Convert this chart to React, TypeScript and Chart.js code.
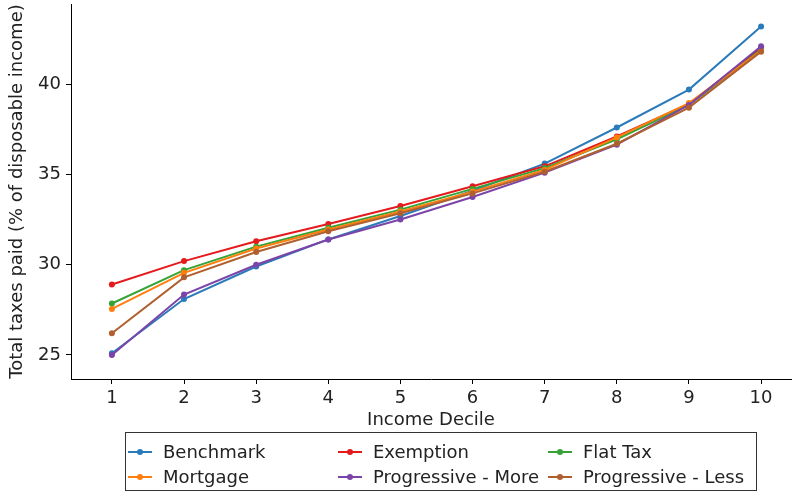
import React, { useEffect, useRef } from "react";
import { Chart, registerables } from "chart.js";

Chart.register(...registerables);

const deciles = [1, 2, 3, 4, 5, 6, 7, 8, 9, 10];
const yTicks = [25, 30, 35, 40];

const benchmark = [25.1, 28.1, 29.9, 31.4, 32.7, 34.1, 35.6, 37.6, 39.7, 43.2];
const exemption = [28.9, 30.2, 31.3, 32.25, 33.25, 34.35, 35.45, 37.1, 38.9, 42.0];
const flatTax = [27.85, 29.7, 31.0, 32.05, 33.05, 34.2, 35.35, 36.95, 38.85, 41.9];
const mortgage = [27.55, 29.55, 30.9, 31.95, 32.95, 34.05, 35.25, 37.05, 38.95, 41.85];
const progMore = [25.0, 28.35, 30.0, 31.4, 32.5, 33.75, 35.1, 36.65, 38.85, 42.1];
const progLess = [26.2, 29.3, 30.7, 31.85, 32.85, 33.95, 35.15, 36.7, 38.7, 41.8];

const seriesNames = ["Benchmark", "Exemption", "Flat Tax", "Mortgage", "Progressive - More", "Progressive - Less"];
const seriesData = [benchmark, exemption, flatTax, mortgage, progMore, progLess];
const seriesColors = ["#2b7bba", "#e41a1c", "#36a336", "#ff7f0e", "#7b44a8", "#b0602e"];

const FONT = "'DejaVu Sans', Verdana, sans-serif";
const FS = 18;

export default function App() {
  const ref = useRef<HTMLCanvasElement | null>(null);

  useEffect(() => {
    document.body.style.margin = "0";
    const ctx = ref.current!;
    const chart = new Chart(ctx, {
      type: "line",
      data: {
        datasets: seriesNames.map((name, i) => ({
          label: name,
          data: deciles.map((d, j) => ({ x: d, y: seriesData[i][j] })),
          borderColor: seriesColors[i],
          backgroundColor: seriesColors[i],
          borderWidth: 2,
          pointRadius: 3,
          pointBorderWidth: 0,
          pointHoverRadius: 3,
          fill: false,
          order: seriesNames.length - i,
        })),
      },
      options: {
        animation: false,
        responsive: false,
        maintainAspectRatio: false,
        layout: { padding: { left: 0, right: 1, top: 4, bottom: 65 } },
        plugins: { legend: { display: false }, tooltip: { enabled: false } },
        scales: {
          x: {
            type: "linear",
            min: 0.433,
            max: 10.415,
            afterBuildTicks: (s: any) => {
              s.ticks = deciles.map((v) => ({ value: v }));
            },
            afterFit: (s: any) => {
              s.height = 54;
              s.paddingLeft = 0;
              s.paddingRight = 0;
            },
            grid: { display: true, drawOnChartArea: false, drawTicks: true, tickLength: 5, color: "#000" },
            border: { display: true, color: "#000", width: 1 },
            ticks: { color: "#222", font: { family: FONT, size: FS }, padding: 4, maxRotation: 0, autoSkip: false },
            title: { display: true, text: "Income Decile", color: "#222", font: { family: FONT, size: FS }, padding: { top: 0, bottom: 2 } },
          },
          y: {
            type: "linear",
            min: 23.67,
            max: 44.44,
            afterBuildTicks: (s: any) => {
              s.ticks = yTicks.map((v) => ({ value: v }));
            },
            afterFit: (s: any) => {
              s.width = 71;
              s.paddingTop = 0;
              s.paddingBottom = 0;
            },
            grid: { display: true, drawOnChartArea: false, drawTicks: true, tickLength: 5, color: "#000" },
            border: { display: true, color: "#000", width: 1 },
            ticks: { color: "#222", font: { family: FONT, size: FS }, padding: 5 },
            title: { display: true, text: "Total taxes paid (% of disposable income)", color: "#222", font: { family: FONT, size: FS }, padding: { top: 7, bottom: 0 } },
          },
        },
      },
    });
    return () => chart.destroy();
  }, []);

  const colX = [128, 338, 548];
  const rowY = [452, 477];

  return (
    <div style={{ position: "fixed", left: 0, top: 0, width: 794, height: 498, background: "#fff" }}>
      <canvas ref={ref} width={794} height={498} style={{ position: "absolute", left: 0, top: 0 }} />
      <div
        style={{
          position: "absolute",
          left: 125,
          top: 432,
          width: 632,
          height: 59,
          border: "1px solid #333",
          boxSizing: "border-box",
        }}
      />
      {seriesNames.map((name, i) => {
        const cx = colX[i % 3];
        const cy = rowY[Math.floor(i / 3)];
        return (
          <div key={name}>
            <div style={{ position: "absolute", left: cx, top: cy - 1, width: 24, height: 2, background: seriesColors[i] }} />
            <div
              style={{
                position: "absolute",
                left: cx + 12 - 3,
                top: cy - 3,
                width: 6,
                height: 6,
                borderRadius: 3,
                background: seriesColors[i],
              }}
            />
            <div
              style={{
                position: "absolute",
                left: cx + 35,
                top: cy - 11,
                height: 22,
                lineHeight: "22px",
                fontFamily: FONT,
                fontSize: FS,
                color: "#222",
                whiteSpace: "nowrap",
              }}
            >
              {name}
            </div>
          </div>
        );
      })}
    </div>
  );
}
